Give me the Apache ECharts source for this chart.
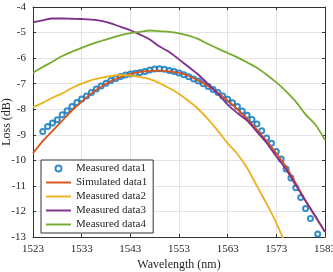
<!DOCTYPE html>
<html>
<head>
<meta charset="utf-8">
<script src="https://cdn.jsdelivr.net/npm/echarts@6/dist/echarts.min.js"></script>
<style>
  html, body { margin: 0; padding: 0; background: #fff; }
  #chart { width: 333px; height: 272px; }
</style>
</head>
<body>
<div id="chart"></div>
<script>
// 波长 / 损耗数据
const measured1X = [1525, 1526, 1527, 1528, 1529, 1530, 1531, 1532, 1533, 1534, 1535, 1536, 1537, 1538, 1539, 1540, 1541, 1542, 1543, 1544, 1545, 1546, 1547, 1548, 1549, 1550, 1551, 1552, 1553, 1554, 1555, 1556, 1557, 1558, 1559, 1560, 1561, 1562, 1563, 1564, 1565, 1566, 1567, 1568, 1569, 1570, 1571, 1572, 1573, 1574, 1575, 1576, 1577, 1578, 1579, 1580, 1581.5]
const measured1Y = [-8.87, -8.68, -8.54, -8.41, -8.22, -8.06, -7.89, -7.74, -7.60, -7.48, -7.35, -7.21, -7.09, -6.98, -6.88, -6.80, -6.72, -6.66, -6.62, -6.59, -6.56, -6.52, -6.47, -6.43, -6.42, -6.44, -6.48, -6.52, -6.58, -6.65, -6.73, -6.82, -6.90, -7.00, -7.11, -7.23, -7.35, -7.48, -7.61, -7.75, -7.89, -8.07, -8.24, -8.40, -8.58, -8.84, -9.13, -9.33, -9.65, -9.95, -10.34, -10.69, -11.07, -11.45, -11.88, -12.28, -12.88]

const lineX = [1523, 1525, 1527, 1529, 1531, 1533, 1535, 1537, 1539, 1541, 1543, 1545, 1547, 1549, 1551, 1553, 1555, 1557, 1559, 1561, 1563, 1565, 1567, 1569, 1571, 1573, 1575, 1577, 1579, 1581, 1583]
const simulated1Y = [-9.72, -9.25, -8.85, -8.45, -8.05, -7.70, -7.38, -7.12, -6.90, -6.74, -6.62, -6.54, -6.50, -6.49, -6.52, -6.58, -6.70, -6.88, -7.10, -7.36, -7.66, -8.00, -8.38, -8.80, -9.25, -9.72, -10.25, -10.90, -11.58, -12.20, -12.80]
const measured2Y = [-7.92, -7.75, -7.55, -7.38, -7.17, -7.00, -6.86, -6.77, -6.70, -6.66, -6.68, -6.74, -6.82, -6.98, -7.18, -7.40, -7.68, -8.00, -8.40, -8.85, -9.33, -9.75, -10.30, -11.00, -11.70, -12.45, -13.35, null, null, null, null]
const measured3Y = [-4.60, -4.52, -4.45, -4.45, -4.46, -4.47, -4.49, -4.54, -4.64, -4.78, -4.91, -5.08, -5.27, -5.55, -5.76, -6.05, -6.35, -6.65, -7.02, -7.40, -7.82, -8.15, -8.45, -8.88, -9.32, -9.85, -10.35, -10.98, -11.58, -12.18, -12.80]
const measured4Y = [-6.57, -6.35, -6.14, -5.92, -5.75, -5.60, -5.45, -5.33, -5.22, -5.10, -5.02, -4.97, -4.92, -4.95, -4.97, -5.03, -5.12, -5.26, -5.45, -5.63, -5.80, -5.97, -6.17, -6.38, -6.65, -6.95, -7.30, -7.70, -8.20, -8.60, -9.20]

const seriesNames = ['Measured data1', 'Simulated data1', 'Measured data2', 'Measured data3', 'Measured data4']
const colors = ['#0072BD', '#D95319', '#EDB120', '#7E2F8E', '#77AC30']

const font = 'Liberation Serif, Times New Roman, serif'
const textColor = '#262626'
const lineIcon = 'path://M0,0h26v2h-26z'

const pairs = (xs, ys) => xs.map((x, i) => [x, ys[i]]).filter(p => p[1] !== null)

const chart = echarts.init(document.getElementById('chart'))

const lineSeries = (idx, ys) => ({
  name: seriesNames[idx],
  type: 'line',
  data: pairs(lineX, ys),
  symbol: 'none',
  smooth: 0.3,
  xAxisIndex: 0,
  yAxisIndex: 0,
  lineStyle: { color: colors[idx], width: 1.8 },
  itemStyle: { color: colors[idx] }
})

const axisCommon = {
  axisLine: { show: true, lineStyle: { color: '#333', width: 1 } },
  axisTick: { show: true, inside: true, length: 3, lineStyle: { color: '#333' } }
}

const option = {
  animation: false,
  grid: { left: 33, right: 8, top: 7, bottom: 35, outerBoundsMode: 'none', containLabel: false },
  xAxis: [
    {
      type: 'value', min: 1523, max: 1583, interval: 10,
      name: 'Wavelength (nm)', nameLocation: 'middle', nameGap: 22, nameMoveOverlap: false,
      nameTextStyle: { fontFamily: font, fontSize: 12, color: textColor },
      axisLabel: { fontFamily: font, fontSize: 11, color: textColor, margin: 7, formatter: v => String(v) },
      splitLine: { show: true, lineStyle: { color: '#e3e3e3', width: 1 } },
      ...axisCommon
    },
    {
      type: 'value', position: 'top', min: 1523, max: 1583, interval: 10,
      axisLabel: { show: false }, splitLine: { show: false },
      ...axisCommon
    }
  ],
  yAxis: [
    {
      type: 'value', min: -13, max: -4, interval: 1,
      name: 'Loss (dB)', nameLocation: 'middle', nameGap: 20, nameMoveOverlap: false,
      nameTextStyle: { fontFamily: font, fontSize: 12, color: textColor },
      axisLabel: { fontFamily: font, fontSize: 11, color: textColor, margin: 7 },
      splitLine: { show: true, lineStyle: { color: '#e3e3e3', width: 1 } },
      ...axisCommon
    },
    {
      type: 'value', position: 'right', min: -13, max: -4, interval: 1,
      axisLabel: { show: false }, splitLine: { show: false },
      ...axisCommon
    }
  ],
  legend: {
    orient: 'vertical',
    left: 41,
    top: 160,
    itemWidth: 25,
    itemHeight: 6,
    itemGap: 3,
    padding: [3, 6, 3, 5],
    backgroundColor: '#fff',
    borderColor: '#333',
    borderWidth: 1,
    borderRadius: 0,
    textStyle: { fontFamily: font, fontSize: 11, color: textColor, lineHeight: 10 },
    data: [
      { name: seriesNames[0], icon: 'emptyCircle', itemStyle: { color: colors[0], borderColor: colors[0], borderWidth: 1.6 } },
      { name: seriesNames[1], icon: lineIcon },
      { name: seriesNames[2], icon: lineIcon },
      { name: seriesNames[3], icon: lineIcon },
      { name: seriesNames[4], icon: lineIcon }
    ]
  },
  series: [
    {
      name: seriesNames[0],
      type: 'scatter',
      data: pairs(measured1X, measured1Y),
      symbol: 'emptyCircle',
      symbolSize: 5,
      itemStyle: { color: colors[0], borderColor: colors[0], borderWidth: 1.5 }
    },
    lineSeries(1, simulated1Y),
    lineSeries(2, measured2Y),
    lineSeries(3, measured3Y),
    lineSeries(4, measured4Y)
  ]
}

chart.setOption(option)
</script>
</body>
</html>
